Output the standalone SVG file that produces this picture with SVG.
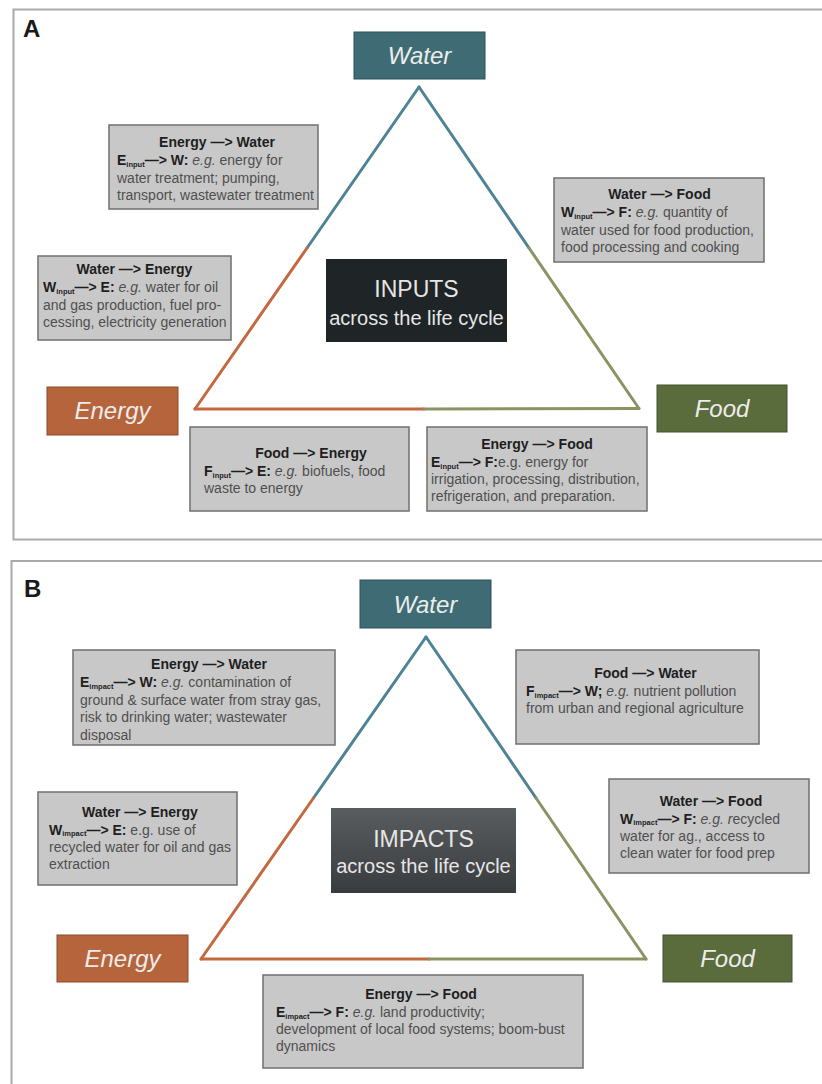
<svg xmlns="http://www.w3.org/2000/svg" width="822" height="1084" viewBox="0 0 822 1084">
<defs>
<style>
.pb{fill:none;stroke:#a9a9a9;stroke-width:2}
.pl{font-family:"Liberation Sans",Arial,sans-serif;font-size:24px;font-weight:bold;fill:#1a1a1a}
.lbl{font-family:"Liberation Sans",Arial,sans-serif;font-size:24px;font-style:italic;fill:#ececec;text-anchor:middle}
.ctr{font-family:"Liberation Sans",Arial,sans-serif;fill:#e6e6e6;text-anchor:middle}
.box{fill:#c8c8c8;stroke:#6f6f6f;stroke-width:1.5}
.t{font-family:"Liberation Sans",Arial,sans-serif;font-size:14px;fill:#4f4f4f}
.h{font-weight:bold;fill:#1e1e1e;text-anchor:middle}
.b{font-weight:bold;fill:#1e1e1e}
.sub{font-size:7.5px}
.i{font-style:italic}
.e{stroke-width:3;fill:none;stroke-linecap:round}
.tw{stroke:#4d8394}.to{stroke:#c4683f}.tf{stroke:#8a9463}
</style>
<linearGradient id="gimp" x1="0" y1="0" x2="0" y2="1">
<stop offset="0" stop-color="#5a5d60"/>
<stop offset="1" stop-color="#393c3f"/>
</linearGradient>
</defs>
<rect width="822" height="1084" fill="#ffffff"/>

<!-- Panel frames -->
<g id="panelA">
<rect class="pb" x="13.5" y="9.5" width="820" height="530"/>
<text class="pl" x="23" y="37">A</text>
</g>
<g id="panelB">
<rect class="pb" x="11.5" y="561" width="822" height="540"/>
<text class="pl" x="24" y="597">B</text>
</g>

<!-- Connectors -->
<g id="connectors">
<line class="e tw" x1="419" y1="87" x2="307" y2="248"/>
<line class="e to" x1="307" y1="248" x2="195" y2="409"/>
<line class="e tw" x1="419" y1="87" x2="529" y2="248"/>
<line class="e tf" x1="529" y1="248" x2="639" y2="408.5"/>
<line class="e to" x1="195" y1="409" x2="424" y2="409"/>
<line class="e tf" x1="424" y1="409" x2="639" y2="408.5"/>

<line class="e tw" x1="426" y1="637" x2="313.5" y2="798"/>
<line class="e to" x1="313.5" y1="798" x2="201" y2="959"/>
<line class="e tw" x1="426" y1="637" x2="536" y2="798"/>
<line class="e tf" x1="536" y1="798" x2="646" y2="959"/>
<line class="e to" x1="201" y1="959" x2="429" y2="959"/>
<line class="e tf" x1="429" y1="959" x2="646" y2="959"/>
</g>

<!-- Panel A nodes -->
<g id="A-water">
<rect x="354" y="32" width="131" height="47" fill="#3f6c74" stroke="#2f5158" stroke-width="1"/>
<text class="lbl" x="419.5" y="64">Water</text>
</g>
<g id="A-energy">
<rect x="47" y="387" width="131" height="48" fill="#b6643b" stroke="#8a4a2a" stroke-width="1"/>
<text class="lbl" x="112.5" y="419">Energy</text>
</g>
<g id="A-food">
<rect x="657" y="385" width="130" height="47" fill="#5a6b3c" stroke="#44522c" stroke-width="1"/>
<text class="lbl" x="722" y="417">Food</text>
</g>
<g id="A-inputs">
<rect x="326" y="259" width="181" height="83" fill="#1f2427"/>
<text class="ctr" x="416.5" y="297" font-size="23">INPUTS</text>
<text class="ctr" x="416.5" y="325" font-size="20">across the life cycle</text>
</g>

<g id="A-energy-water">
<rect class="box" x="109" y="125" width="209" height="84"/>
<text class="t h" x="217" y="147">Energy —&gt; Water</text>
<text class="t" x="117" y="165"><tspan class="b">E<tspan class="sub" dy="1.5">input</tspan><tspan dy="-1.5">—&gt; W:</tspan></tspan> <tspan class="i">e.g.</tspan> energy for</text>
<text class="t" x="117" y="182.5">water treatment; pumping,</text>
<text class="t" x="117" y="200">transport, wastewater treatment</text>
</g>

<g id="A-water-energy">
<rect class="box" x="38" y="256" width="193" height="84"/>
<text class="t h" x="134.5" y="274">Water —&gt; Energy</text>
<text class="t" x="43" y="292"><tspan class="b">W<tspan class="sub" dy="1.5">input</tspan><tspan dy="-1.5">—&gt; E:</tspan></tspan> <tspan class="i">e.g.</tspan> water for oil</text>
<text class="t" x="43" y="310">and gas production, fuel pro-</text>
<text class="t" x="43" y="327">cessing, electricity generation</text>
</g>

<g id="A-water-food">
<rect class="box" x="554" y="178" width="210" height="84"/>
<text class="t h" x="659.5" y="199">Water —&gt; Food</text>
<text class="t" x="561" y="217"><tspan class="b">W<tspan class="sub" dy="1.5">input</tspan><tspan dy="-1.5">—&gt; F:</tspan></tspan> <tspan class="i">e.g.</tspan> quantity of</text>
<text class="t" x="561" y="235">water used for food production,</text>
<text class="t" x="561" y="252">food processing and cooking</text>
</g>

<g id="A-food-energy">
<rect class="box" x="190" y="427" width="219" height="84"/>
<text class="t h" x="311" y="458">Food —&gt; Energy</text>
<text class="t" x="204" y="476"><tspan class="b">F<tspan class="sub" dy="1.5">input</tspan><tspan dy="-1.5">—&gt; E:</tspan></tspan> <tspan class="i">e.g.</tspan> biofuels, food</text>
<text class="t" x="204" y="493">waste to energy</text>
</g>

<g id="A-energy-food">
<rect class="box" x="427" y="427" width="220" height="84"/>
<text class="t h" x="537" y="449">Energy —&gt; Food</text>
<text class="t" x="431" y="467"><tspan class="b">E<tspan class="sub" dy="1.5">input</tspan><tspan dy="-1.5">—&gt; F:</tspan></tspan>e.g. energy for</text>
<text class="t" x="431" y="484">irrigation, processing, distribution,</text>
<text class="t" x="431" y="501">refrigeration, and preparation.</text>
</g>

<!-- Panel B nodes -->
<g id="B-water">
<rect x="360" y="580" width="131" height="48" fill="#3f6c74" stroke="#2f5158" stroke-width="1"/>
<text class="lbl" x="425.5" y="613">Water</text>
</g>
<g id="B-energy">
<rect x="57" y="935" width="131" height="47" fill="#b6643b" stroke="#8a4a2a" stroke-width="1"/>
<text class="lbl" x="122.5" y="967">Energy</text>
</g>
<g id="B-food">
<rect x="663" y="935" width="129" height="47" fill="#5a6b3c" stroke="#44522c" stroke-width="1"/>
<text class="lbl" x="727.5" y="967">Food</text>
</g>
<g id="B-impacts">
<rect x="331" y="808" width="185" height="85" fill="url(#gimp)"/>
<text class="ctr" x="423.5" y="847" font-size="23">IMPACTS</text>
<text class="ctr" x="423.5" y="873" font-size="20">across the life cycle</text>
</g>

<g id="B-energy-water">
<rect class="box" x="73" y="650" width="262" height="95"/>
<text class="t h" x="209" y="669">Energy —&gt; Water</text>
<text class="t" x="80" y="687"><tspan class="b">E<tspan class="sub" dy="1.5">impact</tspan><tspan dy="-1.5">—&gt; W:</tspan></tspan><tspan class="i"> e.g.</tspan> contamination of</text>
<text class="t" x="80" y="704.5">ground &amp; surface water from stray gas,</text>
<text class="t" x="80" y="722">risk to drinking water; wastewater</text>
<text class="t" x="80" y="739.5">disposal</text>
</g>

<g id="B-water-energy">
<rect class="box" x="38" y="792" width="199" height="93"/>
<text class="t h" x="140" y="817">Water —&gt; Energy</text>
<text class="t" x="49" y="834.5"><tspan class="b">W<tspan class="sub" dy="1.5">impact</tspan><tspan dy="-1.5">—&gt; E:</tspan></tspan> e.g. use of</text>
<text class="t" x="49" y="852">recycled water for oil and gas</text>
<text class="t" x="49" y="869">extraction</text>
</g>

<g id="B-food-water">
<rect class="box" x="516" y="650" width="243" height="94"/>
<text class="t h" x="645.5" y="678">Food —&gt; Water</text>
<text class="t" x="526" y="696"><tspan class="b">F<tspan class="sub" dy="1.5">impact</tspan><tspan dy="-1.5">—&gt; W;</tspan></tspan> <tspan class="i">e.g.</tspan> nutrient pollution</text>
<text class="t" x="526" y="713">from urban and regional agriculture</text>
</g>

<g id="B-water-food">
<rect class="box" x="609" y="779" width="200" height="94"/>
<text class="t h" x="711" y="806">Water —&gt; Food</text>
<text class="t" x="620" y="823.5"><tspan class="b">W<tspan class="sub" dy="1.5">impact</tspan><tspan dy="-1.5">—&gt; F:</tspan></tspan> <tspan class="i">e.g. r</tspan>ecycled</text>
<text class="t" x="620" y="841">water for ag., access to</text>
<text class="t" x="620" y="858">clean water for food prep</text>
</g>

<g id="B-energy-food">
<rect class="box" x="263" y="975" width="320" height="93"/>
<text class="t h" x="421" y="999">Energy —&gt; Food</text>
<text class="t" x="276" y="1017"><tspan class="b">E<tspan class="sub" dy="1.5">impact</tspan><tspan dy="-1.5">—&gt; F:</tspan></tspan>  <tspan class="i">e.g.</tspan> land productivity;</text>
<text class="t" x="276" y="1034">development of local food systems; boom-bust</text>
<text class="t" x="276" y="1051">dynamics</text>
</g>
</svg>
